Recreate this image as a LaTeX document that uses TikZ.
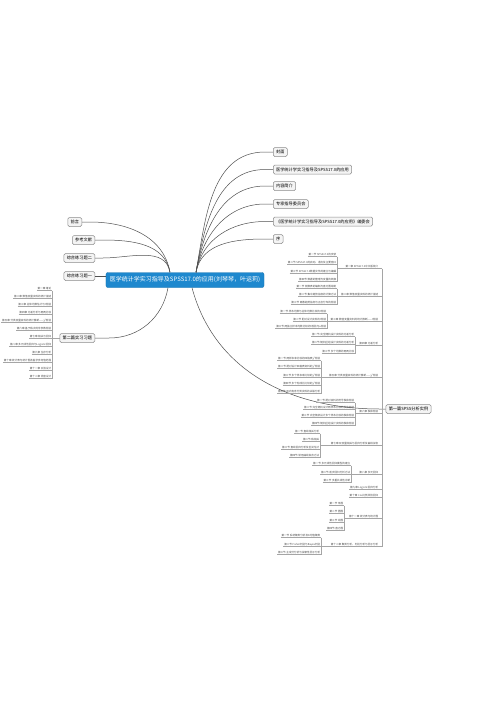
\documentclass[tikz,border=0pt]{standalone}
\usepackage{fontspec}
\newfontfamily\cjk{Noto Sans CJK SC}
\definecolor{rootblue}{RGB}{30,136,206}
\definecolor{topicfill}{RGB}{244,244,244}
\definecolor{topicline}{RGB}{140,140,140}
\definecolor{branch}{RGB}{80,80,80}
\definecolor{twig}{RGB}{165,165,165}

\begin{document}
\begin{tikzpicture}[x=1pt, y=-1pt,
    root/.style={fill=rootblue, draw=rootblue!85!black, rounded corners=2pt, text=white,
      font=\cjk\fontsize{6}{7}\selectfont, minimum height=15pt, inner xsep=4pt, inner ysep=0pt},
    topic/.style={fill=topicfill, draw=topicline, line width=0.5pt, rounded corners=1.5pt,
      font=\cjk\fontsize{4.2}{5}\selectfont, minimum height=9pt, inner xsep=2.8pt, inner ysep=0pt},
    leaf/.style={font=\cjk\fontsize{2.6}{3}\selectfont, text=black!70, inner xsep=0.6pt, inner ysep=0.5pt},
    branchline/.style={draw=branch, line width=0.5pt},
    twigline/.style={draw=twig, line width=0.35pt}]
    \useasboundingbox[fill=white] (0,0) rectangle (500,707);

    % Central topic
    \node[root] (root) at (185,280) {医学统计学实习指导及SPSS17.0的应用(刘琴琴，叶运莉)};

    % Right main topics
    \node[topic, anchor=west] (cover) at (273,152) {封面};
    \node[topic, anchor=west] (title) at (273,169.5) {医学统计学实习指导及SPSS17.0的应用};
    \node[topic, anchor=west] (intro) at (273,186) {内容简介};
    \node[topic, anchor=west] (experts) at (273,204) {专家指导委员会};
    \node[topic, anchor=west] (editors) at (273,221.5) {《医学统计学实习指导及SPSS17.0的应用》编委会};
    \node[topic, anchor=west] (preface) at (273,239) {序};
    \node[topic] (part1) at (408.5,409) {第一篇SPSS分析实例};

    % Left main topics
    \node[topic, anchor=east] (foreword) at (82,222) {前言};
    \node[topic, anchor=east] (refs) at (95,240) {参考文献};
    \node[topic, anchor=east] (exam2) at (95,258) {综合练习题二};
    \node[topic, anchor=east] (exam1) at (95,276) {综合练习题一};
    \node[topic, anchor=east] (part2) at (95,338) {第二篇实习习题};

    % Branches
    \foreach \n in {cover, title, intro, experts, editors, preface}
      \draw[branchline] ([xshift=11pt]root.north) to[out=80,in=180] ([xshift=-8pt]\n.west) -- (\n.west);
    \foreach \n in {foreword, refs, exam2}
      \draw[branchline] ([xshift=-15pt]root.north) to[out=100,in=0] ([xshift=8pt]\n.east) -- (\n.east);
    \draw[branchline] (exam1.east) -- (exam1.east -| root.west);
    \draw[branchline] ([xshift=-17pt]root.south) to[out=-100,in=0] ([xshift=14pt]part2.east) -- (part2.east);
    \draw[branchline] ([xshift=7pt]root.south) to[out=-75,in=180] ([xshift=-6pt]part1.west) -- (part1.west);

    % Part two: exercises
    \foreach \y/\t [count=\i] in {289/{第一章 绪论}, 297/{第二章 数值变量资料的统计描述},
        305/{第三章 总体均数估计与t检验}, 313/{第四章 方差分析与两两比较},
        321/{第五章 分类变量资料的统计推断——χ²检验}, 329/{第六章 基于秩次的非参数检验},
        337/{第七章 相关与回归}, 345/{第八章 多元线性回归与Logistic回归},
        353/{第九章 生存分析}, 361/{第十章 统计表与统计图及医学参考值范围},
        369/{第十一章 实验设计}, 377/{第十二章 调查设计}} {
      \node[leaf, anchor=south east] (p2-\i) at (52,\y+1.5) {\t};
      \draw[twigline] (p2-\i.south west) -- (p2-\i.south east);
    }
    \draw[twigline] (p2-1.south east) -- (p2-12.south east);
    \draw[twigline] (p2-1.south east |- part2.west) -- (part2.west);

    % Part one: chapters
    \coordinate (trunk) at (382,268.5);
    \node[leaf, anchor=south east] (ch1) at (379,268.5) {第一章 SPSS17.0中文版简介};
    \node[leaf, anchor=south east] (ch2) at (379,296.5) {第二章 数值变量资料的统计描述};
    \node[leaf, anchor=south east] (ch3) at (379,321.5) {第三章 数值变量资料的统计推断——t检验};
    \node[leaf, anchor=south east] (ch4) at (379,345.5) {第四章 方差分析};
    \node[leaf, anchor=south east] (ch5) at (379,377.5) {第五章 分类变量资料的统计推断——χ²检验};
    \node[leaf, anchor=south east] (ch6) at (379,413.5) {第六章 秩和检验};
    \node[leaf, anchor=south east] (ch7) at (379,445.5) {第七章 双变量相关与回归分析及曲线拟合};
    \node[leaf, anchor=south east] (ch8) at (379,474.5) {第八章 多元回归};
    \node[leaf, anchor=south east] (ch9) at (379,489.5) {第九章 Logistic回归分析};
    \node[leaf, anchor=south east] (ch10) at (379,497.5) {第十章 Cox比例风险回归};
    \node[leaf, anchor=south east] (ch11) at (379,518.5) {第十一章 统计表与统计图};
    \node[leaf, anchor=south east] (ch12) at (379,546.5) {第十二章 聚类分析、判别分析与因子分析};
    \draw[twigline] (ch1.south -| trunk) -- (ch12.south -| trunk);
    \foreach \n in {ch9, ch10}
      \draw[twigline] (\n.south west) -- (\n.south -| trunk);

    % Chapter 1
    \foreach \y/\t [count=\i] in {255/{第一节 SPSS17.0的安装}, 263/{第二节 SPSS17.0的启动、退出及主要窗口},
        272/{第三节 SPSS17.0数据文件的建立与编辑}, 280/{第四节 数据的整理与变量的转换}} {
      \node[leaf, anchor=south east] (c1-\i) at (337,\y+1.5) {\t};
      \draw[twigline] (c1-\i.south west) -- (c1-\i.south east);
    }
    \draw[twigline] (c1-1.south east) -- (c1-4.south east);
    \draw[twigline] (c1-1.south east |- ch1.south) -- (ch1.south -| trunk);

    % Chapter 2
    \foreach \y/\t [count=\i] in {287/{第一节 频数表的编制与直方图绘制}, 295/{第二节 集中趋势指标的计算方法},
        303/{第三节 离散趋势指标与正态分布的检验}} {
      \node[leaf, anchor=south east] (c2-\i) at (337,\y+1.5) {\t};
      \draw[twigline] (c2-\i.south west) -- (c2-\i.south east);
    }
    \draw[twigline] (c2-1.south east) -- (c2-3.south east);
    \draw[twigline] (c2-1.south east |- ch2.south) -- (ch2.south -| trunk);

    % Chapter 3
    \foreach \y/\t [count=\i] in {312/{第一节 样本均数与总体均数比较的t检验}, 320/{第二节 配对设计资料的t检验},
        327/{第三节 两独立样本均数比较的t检验与u检验}} {
      \node[leaf, anchor=south east] (c3-\i) at (327,\y+1.5) {\t};
      \draw[twigline] (c3-\i.south west) -- (c3-\i.south east);
    }
    \draw[twigline] (c3-1.south east) -- (c3-3.south east);
    \draw[twigline] (c3-1.south east |- ch3.south) -- (ch3.south -| trunk);

    % Chapter 4
    \foreach \y/\t [count=\i] in {335/{第一节 完全随机设计资料的方差分析}, 343/{第二节 随机区组设计资料的方差分析},
        352/{第三节 多个均数的两两比较}} {
      \node[leaf, anchor=south east] (c4-\i) at (355,\y+1.5) {\t};
      \draw[twigline] (c4-\i.south west) -- (c4-\i.south east);
    }
    \draw[twigline] (c4-1.south east) -- (c4-3.south east);
    \draw[twigline] (c4-1.south east |- ch4.south) -- (ch4.south -| trunk);

    % Chapter 5
    \foreach \y/\t [count=\i] in {359/{第一节 两样本率比较的四格表χ²检验}, 367/{第二节 配对设计四格表资料的χ²检验},
        376/{第三节 多个样本率比较的χ²检验}, 384/{第四节 多个构成比比较的χ²检验},
        392/{第五节 双向有序分类资料的关联分析}} {
      \node[leaf, anchor=south east] (c5-\i) at (321,\y+1.5) {\t};
      \draw[twigline] (c5-\i.south west) -- (c5-\i.south east);
    }
    \draw[twigline] (c5-1.south east) -- (c5-5.south east);
    \draw[twigline] (c5-1.south east |- ch5.south) -- (ch5.south -| trunk);

    % Chapter 6
    \foreach \y/\t [count=\i] in {401/{第一节 配对资料的符号秩和检验}, 408/{第二节 完全随机设计两样本比较的秩和检验},
        416/{第三节 完全随机设计多个样本比较的秩和检验}, 424/{第四节 随机区组设计资料的秩和检验}} {
      \node[leaf, anchor=south east] (c6-\i) at (355,\y+1.5) {\t};
      \draw[twigline] (c6-\i.south west) -- (c6-\i.south east);
    }
    \draw[twigline] (c6-1.south east) -- (c6-4.south east);
    \draw[twigline] (c6-1.south east |- ch6.south) -- (ch6.south -| trunk);

    % Chapter 7
    \foreach \y/\t [count=\i] in {432/{第一节 直线相关分析}, 440/{第二节 秩相关},
        448/{第三节 直线回归分析及区间估计}, 456/{第四节 常用曲线拟合方法}} {
      \node[leaf, anchor=south east] (c7-\i) at (320,\y+1.5) {\t};
      \draw[twigline] (c7-\i.south west) -- (c7-\i.south east);
    }
    \draw[twigline] (c7-1.south east) -- (c7-4.south east);
    \draw[twigline] (c7-1.south east |- ch7.south) -- (ch7.south -| trunk);

    % Chapter 8
    \foreach \y/\t [count=\i] in {464/{第一节 多元线性回归模型的建立}, 473/{第二节 逐步回归分析方法},
        481/{第三节 多重共线性诊断}} {
      \node[leaf, anchor=south east] (c8-\i) at (351,\y+1.5) {\t};
      \draw[twigline] (c8-\i.south west) -- (c8-\i.south east);
    }
    \draw[twigline] (c8-1.south east) -- (c8-3.south east);
    \draw[twigline] (c8-1.south east |- ch8.south) -- (ch8.south -| trunk);

    % Chapter 11
    \foreach \y/\t [count=\i] in {504/{第一节 条图}, 512/{第二节 圆图}, 521/{第三节 线图}, 529/{第四节 直方图}} {
      \node[leaf, anchor=south east] (c11-\i) at (344,\y+1.5) {\t};
      \draw[twigline] (c11-\i.south west) -- (c11-\i.south east);
    }
    \draw[twigline] (c11-1.south east) -- (c11-4.south east);
    \draw[twigline] (c11-1.south east |- ch11.south) -- (ch11.south -| trunk);

    % Chapter 12
    \foreach \y/\t [count=\i] in {536/{第一节 系统聚类分析及K均值聚类}, 545/{第二节 Fisher判别与Bayes判别},
        553/{第三节 主成分分析与探索性因子分析}} {
      \node[leaf, anchor=south east] (c12-\i) at (321,\y+1.5) {\t};
      \draw[twigline] (c12-\i.south west) -- (c12-\i.south east);
    }
    \draw[twigline] (c12-1.south east) -- (c12-3.south east);
    \draw[twigline] (c12-1.south east |- ch12.south) -- (ch12.south -| trunk);
\end{tikzpicture}
\end{document}
